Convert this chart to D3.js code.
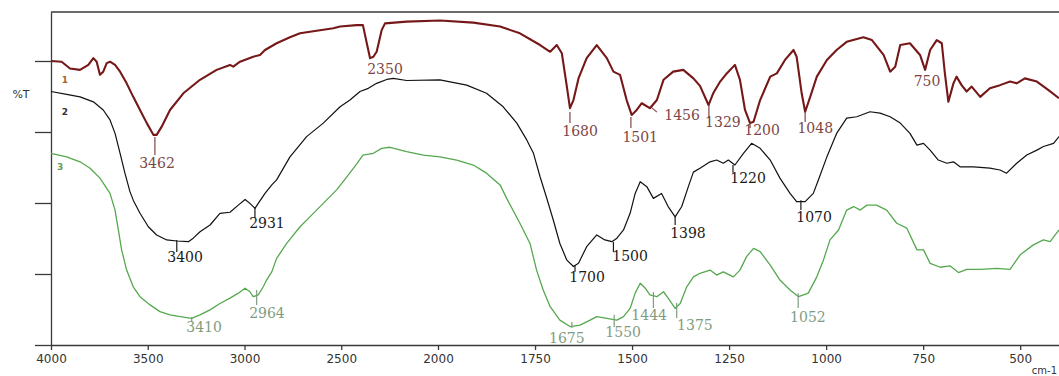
<!DOCTYPE html>
<html><head><meta charset="utf-8">
<script src="https://cdn.jsdelivr.net/npm/d3@7"></script>
<style>html,body{margin:0;padding:0;background:#fff;overflow:hidden}</style>
</head><body>
<svg id="chart" width="1059" height="376"></svg>
<script>
// Series 1 (maroon)
const s1Wave=[4000,3945,3902,3850,3807,3781,3764,3747,3730,3712,3695,3669,3643,3609,3575,3540,3505,3471,3454,3428,3385,3316,3230,3144,3075,3058,3023,2955,2920,2894,2834,2765,2713,2627,2541,2506,2420,2388,2368,2351,2334,2317,2291,2274,2162,1995,1909,1840,1789,1737,1711,1694,1681,1668,1660,1651,1638,1617,1591,1565,1548,1531,1514,1501,1488,1475,1454,1436,1419,1394,1368,1342,1325,1303,1291,1273,1256,1235,1222,1209,1196,1187,1170,1144,1127,1106,1084,1076,1063,1054,1041,1024,998,973,947,904,882,852,835,822,809,784,758,745,732,715,702,694,685,672,664,651,638,625,603,578,552,526,509,488,457,427,400];
const s1T=[80.0,79.8,77.9,77.5,78.9,80.8,79.8,76.1,77.0,79.4,79.8,78.9,77.0,73.7,69.9,66.2,62.5,59.2,59.2,61.5,66.2,70.9,74.7,77.5,78.9,78.4,79.8,81.2,81.7,83.1,85.0,86.7,87.8,88.5,89.2,89.7,90.1,90.1,85.0,80.8,81.2,82.6,88.7,90.6,91.1,91.4,90.8,89.7,87.8,84.5,82.6,84.5,82.2,72.8,66.7,69.0,75.1,80.8,84.5,80.8,77.0,76.1,69.0,64.8,66.2,68.1,66.7,69.0,74.7,77.0,77.5,75.1,73.0,67.6,70.9,74.2,76.5,78.9,74.7,66.2,62.5,62.9,69.0,75.6,76.5,80.3,83.1,81.2,70.9,65.7,69.9,75.6,80.3,83.1,85.4,86.7,85.9,81.7,77.0,78.4,84.5,85.0,81.7,77.5,83.1,85.9,85.0,76.5,68.5,73.7,75.6,73.2,71.4,72.8,69.9,72.3,73.2,74.2,73.7,75.1,74.2,71.8,69.5];

// Series 2 (black)
const s2Wave=[4000,3919,3850,3781,3730,3695,3669,3643,3618,3592,3575,3540,3497,3454,3402,3350,3290,3265,3230,3178,3127,3075,3032,2997,2972,2946,2929,2894,2859,2834,2765,2679,2593,2506,2455,2403,2360,2317,2265,2231,2162,1995,1926,1875,1832,1797,1771,1754,1737,1720,1703,1686,1668,1651,1638,1617,1591,1570,1552,1539,1522,1505,1492,1479,1462,1445,1424,1407,1389,1372,1355,1342,1325,1299,1282,1265,1252,1235,1213,1192,1170,1144,1119,1093,1076,1054,1033,1020,998,973,947,921,887,861,835,809,784,766,749,732,711,689,672,655,620,578,552,535,509,483,457,440,414,400];
const s2T=[71.4,70.6,69.9,68.5,66.2,63.4,59.6,54.0,48.4,43.2,40.8,37.1,33.3,31.0,29.6,29.3,29.1,30.1,31.9,33.8,37.1,37.4,39.4,41.0,39.9,38.5,39.9,42.7,45.1,46.5,53.0,58.7,62.5,67.1,69.0,71.4,72.3,73.7,74.8,75.1,74.5,74.7,73.2,70.9,67.1,62.5,57.7,54.0,47.4,41.4,35.2,28.6,23.9,22.1,23.0,27.7,31.0,29.6,29.1,30.1,32.4,37.1,42.7,46.0,44.6,41.3,42.7,39.0,36.1,39.0,44.6,48.7,49.8,51.6,52.1,51.2,52.1,50.7,54.0,56.8,55.4,52.1,47.0,42.7,40.4,40.4,42.7,46.5,53.0,59.6,63.9,64.3,65.7,65.3,64.3,62.5,59.6,56.3,56.8,54.9,52.1,51.2,51.6,50.2,50.2,49.8,49.3,48.4,51.2,53.5,54.9,55.9,56.8,58.7];

// Series 3 (green)
const s3Wave=[4000,3919,3850,3798,3747,3695,3669,3652,3635,3609,3575,3540,3488,3437,3385,3333,3273,3230,3178,3127,3075,3032,2997,2972,2955,2929,2903,2886,2859,2834,2782,2713,2662,2593,2524,2472,2420,2388,2334,2291,2248,2162,2076,1995,1952,1909,1875,1840,1823,1789,1763,1746,1729,1711,1686,1660,1634,1608,1591,1565,1539,1522,1505,1492,1479,1466,1454,1436,1419,1407,1389,1376,1359,1342,1325,1299,1282,1265,1239,1222,1205,1187,1170,1144,1119,1093,1071,1046,1024,1007,990,968,947,929,912,895,870,844,818,792,766,749,732,706,681,659,638,603,560,526,500,466,440,423,400];
const s3T=[54.0,53.0,51.6,49.8,47.0,42.7,38.0,32.4,26.8,21.1,16.4,13.6,11.3,9.4,8.5,8.0,7.5,8.5,9.9,11.7,13.2,14.6,16.0,15.0,13.6,14.1,16.4,18.3,20.6,24.4,28.6,33.3,36.1,39.9,43.7,47.3,51.0,53.5,54.0,55.4,55.7,54.5,53.5,53.0,52.1,50.7,48.4,45.1,41.3,34.3,28.6,21.1,15.5,10.8,7.0,5.2,5.6,7.0,8.0,7.5,7.0,8.0,10.3,14.6,17.4,16.0,14.1,13.6,15.0,13.2,10.3,11.7,16.4,19.2,20.2,21.1,19.7,20.6,19.2,21.1,24.9,27.2,26.3,22.5,18.3,15.5,13.6,14.6,19.2,23.9,29.6,32.4,38.0,39.0,38.0,39.4,39.4,38.0,34.3,32.9,26.8,26.8,23.0,21.9,22.3,20.4,21.3,21.3,21.6,21.3,25.4,28.2,29.6,29.1,32.4];

// Peak annotations (data units: text at w/v, tick at tw from v0 to v1)
const ann1=[
 {t:"3462",w:3452,v:51.3,tw:3463,v0:58.6,v1:53.5},
 {t:"2350",w:2274,v:77.7},
 {t:"1680",w:1634,v:60.3,tw:1660,v0:65.6,v1:62.5},
 {t:"1501",w:1479,v:58.6,tw:1503,v0:64.2,v1:61.1},
 {t:"1456",w:1371,v:64.8,tw:1449,v0:66.8,tw1:1436,v1:65.6},
 {t:"1329",w:1266,v:62.8,tw:1302,v0:67.6,v1:63.9},
 {t:"1200",w:1165,v:60.6,tw:1196,v0:62.5,v1:61.1},
 {t:"1048",w:1028,v:61.1,tw:1054,v0:65.6,v1:62.8},
 {t:"750",w:740,v:74.4}
];
const ann2=[
 {t:"3400",w:3307,v:24.8,tw:3350,v0:29.6,v1:26.2},
 {t:"2931",w:2884,v:34.4,tw:2946,v0:38.9,v1:35.8},
 {t:"1700",w:1616,v:19.2,tw:1647,v0:22.5,v1:20.6},
 {t:"1500",w:1505,v:25.1,tw:1548,v0:29.0,v1:26.2},
 {t:"1398",w:1356,v:31.6,tw:1389,v0:36.1,v1:33.8},
 {t:"1220",w:1201,v:47.0,tw:1240,v0:50.7,v1:48.5},
 {t:"1070",w:1031,v:36.1,tw:1065,v0:40.8,v1:38.0}
];
const ann3=[
 {t:"3410",w:3209,v:5.1,tw:3273,v0:7.9,v1:6.5},
 {t:"2964",w:2884,v:9.0,tw:2937,v0:15.5,v1:11.3},
 {t:"1675",w:1668,v:2.0,tw:1655,v0:6.5,v1:4.8},
 {t:"1550",w:1523,v:3.7,tw:1546,v0:8.5,v1:5.1},
 {t:"1444",w:1456,v:8.5,tw:1445,v0:14.9,v1:10.4},
 {t:"1375",w:1338,v:5.6,tw:1385,v0:11.8,v1:7.6},
 {t:"1052",w:1047,v:7.9,tw:1072,v0:14.6,v1:10.4}
];
const seriesNames=["1","2","3"];
const seriesNamePos=[[3928,74.7],[3928,65.6],[3953,50.1]];

const xTickValues=[4000,3500,3000,2500,2000,1750,1500,1250,1000,750,500];
const xMinorValues=[3900,3800,3700,3600,3400,3300,3200,3100,2900,2800,2700,2600,2400,2300,2200,2100,1950,1900,1850,1800,1700,1650,1600,1550,1450,1400,1350,1300,1200,1150,1100,1050,950,900,850,800,700,650,600,550,450,400];
const yMajorValues=[0,20,40,60,80];
const yMinorValues=[4,8,12,16,24,28,32,36,44,48,52,56,64,68,72,76,84,88,92];
const yTop=93.8;

const svg=d3.select("#chart");
const x=d3.scaleLinear().domain([4000,2000,400]).range([51,438,1059]);
const y=d3.scaleLinear().domain([0,yTop]).range([345,12]);

const axisColor="#3a3a3a";
// top frame
svg.append("line").attr("x1",x(4000)).attr("x2",x(400)).attr("y1",y(yTop)).attr("y2",y(yTop))
  .attr("stroke",axisColor).attr("stroke-width",1.3);

function styleAxis(g){
  g.selectAll("path,line").attr("stroke",axisColor).attr("stroke-width",1.3);
  g.selectAll("text").attr("fill","#333").style("font-family","'DejaVu Sans',Verdana,sans-serif").style("font-size","12px");
}
const gx=svg.append("g").attr("transform","translate(0,345)");
gx.call(d3.axisBottom(x).tickValues(xMinorValues).tickSize(3).tickSizeOuter(0).tickFormat(""));
gx.call(d3.axisBottom(x).tickValues(xTickValues).tickSize(5).tickSizeOuter(0).tickPadding(4).tickFormat(d3.format("d")));
styleAxis(gx);

const gy=svg.append("g").attr("transform","translate(51,0)");
gy.call(d3.axisLeft(y).tickValues(yMinorValues).tickSize(8).tickSizeOuter(0).tickFormat(""));
gy.call(d3.axisLeft(y).tickValues(yMajorValues).tickSize(16).tickSizeOuter(0).tickFormat(""));
styleAxis(gy);

svg.append("text").attr("x",21).attr("y",94).attr("text-anchor","middle").attr("dominant-baseline","central")
  .style("font-family","'DejaVu Sans',Verdana,sans-serif").style("font-size","11px").attr("fill","#333").text("%T");
svg.append("text").attr("x",1057).attr("y",374).attr("text-anchor","end")
  .style("font-family","'DejaVu Sans',Verdana,sans-serif").style("font-size","10px").attr("fill","#333").text("cm-1");

const series=[
  {w:s1Wave,t:s1T,color:"#761818",width:2.1,ann:ann1,lab:"#7d4646",nameColor:"#a8603a"},
  {w:s2Wave,t:s2T,color:"#111111",width:1.2,ann:ann2,lab:"#1a1a1a",nameColor:"#333"},
  {w:s3Wave,t:s3T,color:"#55a84f",width:1.3,ann:ann3,lab:"#7f9c7f",nameColor:"#6a9a5a"}
];
const line=d3.line().x(d=>x(d[0])).y(d=>y(d[1]));
series.forEach((s,i)=>{
  const pts=s.w.map((w,j)=>[w,s.t[j]]);
  svg.append("path").datum(pts).attr("d",line).attr("fill","none")
    .attr("stroke",s.color).attr("stroke-width",s.width).attr("stroke-linejoin","round");
  const g=svg.append("g");
  s.ann.forEach(a=>{
    if(a.tw!==undefined){
      g.append("line").attr("x1",x(a.tw)).attr("x2",x(a.tw1!==undefined?a.tw1:a.tw))
        .attr("y1",y(a.v0)).attr("y2",y(a.v1)).attr("stroke",s.lab).attr("stroke-width",1.2);
    }
    g.append("text").attr("x",x(a.w)).attr("y",y(a.v)).attr("text-anchor","middle").attr("dominant-baseline","central")
      .style("font-family","'DejaVu Serif','Liberation Serif',serif").style("font-size","14px")
      .attr("fill",s.lab).text(a.t);
  });
  svg.append("text").attr("x",x(seriesNamePos[i][0])).attr("y",y(seriesNamePos[i][1]))
    .attr("text-anchor","middle").attr("dominant-baseline","central")
    .style("font-family","'DejaVu Sans',sans-serif").style("font-size","9px").style("font-weight","bold")
    .attr("fill",s.nameColor).text(seriesNames[i]);
});
</script>
</body></html>
